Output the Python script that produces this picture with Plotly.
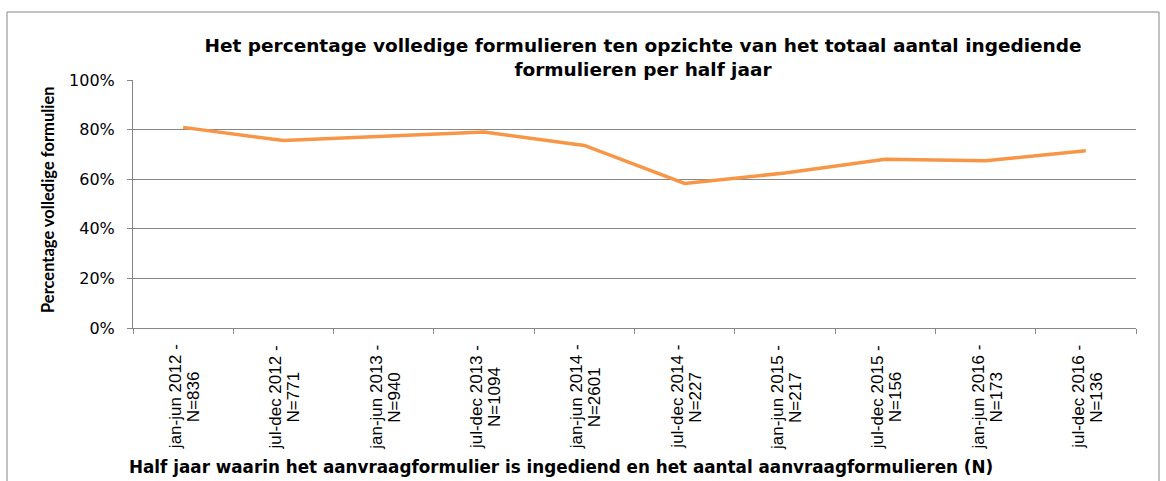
import plotly.graph_objects as go

periods = ["jan-jun 2012", "jul-dec 2012", "jan-jun 2013", "jul-dec 2013", "jan-jun 2014",
           "jul-dec 2014", "jan-jun 2015", "jul-dec 2015", "jan-jun 2016", "jul-dec 2016"]
counts = [836, 771, 940, 1094, 2601, 227, 217, 156, 173, 136]
pct_complete = [0.809, 0.756, 0.773, 0.790, 0.736, 0.583, 0.625, 0.680, 0.674, 0.715]
y_ticks = [0, 0.2, 0.4, 0.6, 0.8, 1.0]
y_ticklabels = ["0%", "20%", "40%", "60%", "80%", "100%"]

title_text = ("Het percentage volledige formulieren ten opzichte van het totaal aantal ingediende"
              "<br>formulieren per half jaar")
x_title = "Half jaar waarin het aanvraagformulier is ingediend en het aantal aanvraagformulieren (N)"
y_title = "Percentage volledige formulien"

W, H = 1166, 481
L, R, T, B = 133, 30, 80, 153
pw, ph = W - L - R, H - T - B


def px_y(py):
    return (H - B - py) / ph


def px_x(px):
    return (px - L) / pw


fig = go.Figure()
fig.add_trace(go.Scatter(x=periods, y=pct_complete, mode="lines",
                         line=dict(color="#F79646", width=3.5), hoverinfo="skip"))

grid = "#878787"
fig.update_layout(
    width=W, height=H,
    margin=dict(l=L, r=R, t=T, b=B),
    paper_bgcolor="white", plot_bgcolor="white",
    showlegend=False,
    font=dict(family="Liberation Sans, Arial, sans-serif", color="black"),
    title=dict(text=title_text, x=643 / W, xanchor="center", y=1 - 52 / H, yanchor="top",
               font=dict(family="DejaVu Sans, sans-serif", size=18.5, color="black",
                         weight="bold")),
    xaxis=dict(type="category", categoryorder="array", categoryarray=periods,
               range=[-0.5, len(periods) - 0.5],
               showticklabels=False, tickson="boundaries", ticks="outside", ticklen=5,
               tickcolor=grid, showline=True, linecolor=grid, linewidth=1,
               showgrid=False, zeroline=False),
    yaxis=dict(range=[0, 1], tickvals=y_ticks, ticktext=y_ticklabels,
               ticks="outside", ticklen=5, tickcolor=grid, ticklabelstandoff=9,
               showline=True, linecolor=grid, linewidth=1,
               showgrid=True, gridcolor=grid, gridwidth=1, zeroline=False,
               tickfont=dict(size=16, family="DejaVu Sans, sans-serif")),
)

for p, n in zip(periods, counts):
    fig.add_annotation(x=p, y=px_y(397), xref="x", yref="paper", yanchor="middle",
                       xanchor="center", xshift=-8, textangle=-90,
                       text=f"{p} -", showarrow=False,
                       font=dict(size=17, family="Liberation Sans, Arial, sans-serif"))
    fig.add_annotation(x=p, y=px_y(397), xref="x", yref="paper", yanchor="middle",
                       xanchor="center", xshift=10, textangle=-90,
                       text=f"N={n}", showarrow=False,
                       font=dict(size=17, family="Liberation Sans, Arial, sans-serif"))

fig.add_annotation(x=px_x(561), y=px_y(467), xref="paper", yref="paper",
                   text=x_title, showarrow=False, xanchor="center", yanchor="middle",
                   font=dict(size=16.8, family="DejaVu Sans, sans-serif", weight="bold"))
fig.add_annotation(x=px_x(48), y=px_y(200), xref="paper", yref="paper",
                   text=y_title, showarrow=False, textangle=-90,
                   xanchor="center", yanchor="middle",
                   font=dict(size=16.5, family="Lato, Carlito, sans-serif", weight="bold"))

# outer chart border
fig.add_shape(type="rect", xref="paper", yref="paper",
              x0=px_x(7), x1=px_x(1159), y0=px_y(495), y1=px_y(12),
              line=dict(color="#868686", width=1), fillcolor="rgba(0,0,0,0)", layer="below")

fig.write_html("out.html", config={"displayModeBar": False},
               post_script="document.body.style.margin='0';")
